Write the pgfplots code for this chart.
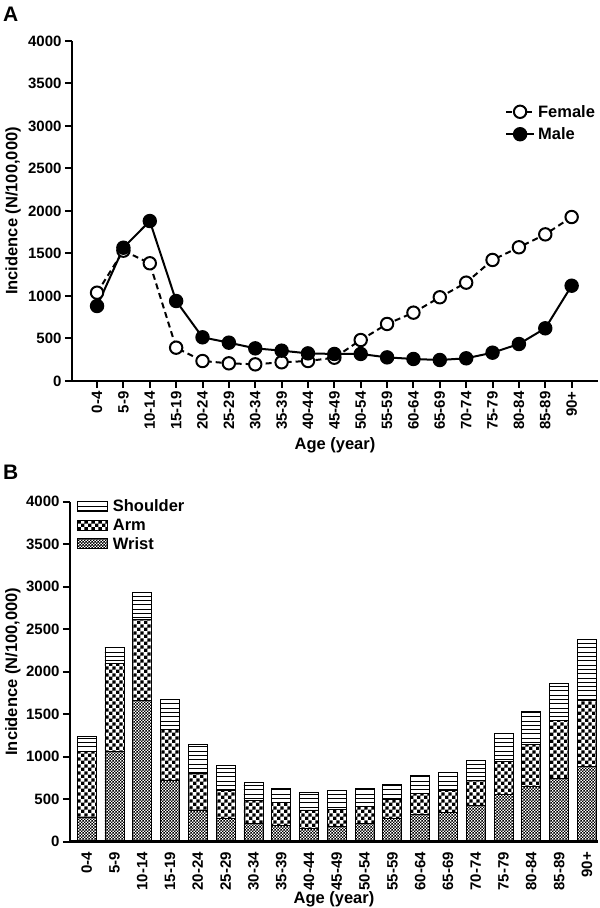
\documentclass[border=0pt]{standalone}
\usepackage{pgfplots}
\pgfplotsset{compat=1.18}
\usepackage{fontspec}
\setmainfont{Liberation Sans}
\usetikzlibrary{patterns}

\pgfdeclarepatternformonly{bigcheck}{\pgfpointorigin}{\pgfqpoint{6.8bp}{6.8bp}}{\pgfqpoint{6.8bp}{6.8bp}}{%
  \pgfpathrectangle{\pgfpointorigin}{\pgfqpoint{3.45bp}{3.45bp}}%
  \pgfpathrectangle{\pgfqpoint{3.4bp}{3.4bp}}{\pgfqpoint{3.45bp}{3.45bp}}%
  \pgfusepath{fill}}
\pgfdeclarepatternformonly{smallcheck}{\pgfpointorigin}{\pgfqpoint{2.8bp}{2.8bp}}{\pgfqpoint{2.8bp}{2.8bp}}{%
  \pgfpathrectangle{\pgfpointorigin}{\pgfqpoint{1.55bp}{1.55bp}}%
  \pgfpathrectangle{\pgfqpoint{1.4bp}{1.4bp}}{\pgfqpoint{1.55bp}{1.55bp}}%
  \pgfusepath{fill}}
\pgfdeclarepatternformonly{hlines}{\pgfqpoint{-1bp}{-1bp}}{\pgfqpoint{100bp}{4.3bp}}{\pgfqpoint{100bp}{4.3bp}}{%
  \pgfsetlinewidth{1bp}%
  \pgfpathmoveto{\pgfqpoint{-1bp}{2bp}}%
  \pgfpathlineto{\pgfqpoint{100bp}{2bp}}%
  \pgfusepath{stroke}}

\pgfplotstableread{
x female male
0 1039 882
1 1533 1568
2 1385 1882
3 392 941
4 235 514
5 208 451
6 196 384
7 220 357
8 235 325
9 274 318
10 482 318
11 671 278
12 804 259
13 985 247
14 1157 267
15 1424 333
16 1573 435
17 1725 620
18 1929 1121
}\lines

\pgfplotstableread{
x wrist arm shoulder
0 290 769 184
1 1059 1040 188
2 1659 957 318
3 726 596 353
4 365 439 337
5 275 333 294
6 216 274 208
7 196 264 167
8 157 216 208
9 184 200 216
10 216 196 215
11 275 227 173
12 325 244 215
13 345 263 204
14 424 294 243
15 561 388 326
16 647 498 384
17 745 686 432
18 882 785 713
}\bars

\pgfplotsset{
  common/.style={
    scale only axis,
    width=526bp, height=340bp,
    ymin=0, ymax=4000,
    ytick={0,500,...,4000},
    separate axis lines,
    axis x line*=bottom,
    axis y line*=left,
    axis line style={line width=2.4bp,-},
    tick align=outside,
    major tick length=7bp,
    every tick/.style={black, line width=2bp},
    /pgf/number format/1000 sep={},
    /pgf/number format/assume math mode=true,
    ticklabel style={font=\fontsize{15bp}{17bp}\selectfont\bfseries},
    x tick label style={rotate=90, anchor=east},
    label style={font=\fontsize{16.5bp}{19bp}\selectfont\bfseries},
    xtick={0,...,18},
    xticklabels={0-4,5-9,10-14,15-19,20-24,25-29,30-34,35-39,40-44,45-49,50-54,55-59,60-64,65-69,70-74,75-79,80-84,85-89,90+},
    xlabel={Age (year)},
    ylabel={Incidence (N/100,000)},
    clip=false,
  }
}

\begin{document}
\begin{tikzpicture}
\path[use as bounding box] (0,0) rectangle (600bp,908bp);
\node[anchor=base west, inner sep=0, font=\fontsize{21bp}{24bp}\selectfont\bfseries] at (3bp,886bp) {A};
\node[anchor=base west, inner sep=0, font=\fontsize{21bp}{24bp}\selectfont\bfseries] at (3bp,428bp) {B};

\begin{axis}[common,
  at={(72bp,527bp)}, anchor=south west,
  xmin=-0.95, xmax=19,
  xlabel style={at={(axis description cs:0.5,-0.188)}, anchor=center},
  ylabel style={at={(axis description cs:-0.112,0.5)}, anchor=center},
  legend style={at={(rel axis cs:0.823,0.818)}, anchor=north west, draw=none, fill=none,
    font=\fontsize{16.5bp}{19bp}\selectfont\bfseries, row sep=5bp, column sep=1bp, inner sep=0pt},
  legend cell align=left,
  legend image code/.code={\draw[mark repeat=2,mark phase=2,#1] plot coordinates {(0bp,0bp)(14bp,0bp)(28bp,0bp)};},
]
\addplot[black, line width=2bp, dash pattern=on 6bp off 4bp, mark=*, mark size=6.2bp,
  mark options={solid, fill=white, line width=2bp}] table[x=x,y=female] {\lines};
\addlegendentry{Female}
\addplot[black, line width=2bp, mark=*, mark size=6.2bp,
  mark options={solid, fill=black}] table[x=x,y=male] {\lines};
\addlegendentry{Male}
\end{axis}

\begin{axis}[common,
  at={(70bp,66.3bp)}, anchor=south west,
  width=528bp,
  xmin=-0.6, xmax=18.4,
  ybar stacked, bar width=19bp,
  xtick style={draw=none},
  xlabel style={at={(axis description cs:0.5,-0.168)}, anchor=center},
  ylabel style={at={(axis description cs:-0.108,0.5)}, anchor=center},
  legend style={at={(rel axis cs:0.013,1.012)}, anchor=north west, draw=none, fill=none,
    font=\fontsize{16.5bp}{19bp}\selectfont\bfseries, row sep=1.5bp, column sep=3bp, inner sep=0pt},
  legend cell align=left,
  reverse legend,
  legend image code/.code={\draw[#1] (0bp,-5bp) rectangle (30bp,5bp);},
]
\addplot[draw=black, line width=0.8bp, pattern=smallcheck] table[x=x,y=wrist] {\bars};
\addlegendentry{Wrist}
\addplot[draw=black, line width=0.8bp, pattern=bigcheck] table[x=x,y=arm] {\bars};
\addlegendentry{Arm}
\addplot[draw=black, line width=0.8bp, pattern=hlines] table[x=x,y=shoulder] {\bars};
\addlegendentry{Shoulder}
\end{axis}
\end{tikzpicture}
\end{document}
